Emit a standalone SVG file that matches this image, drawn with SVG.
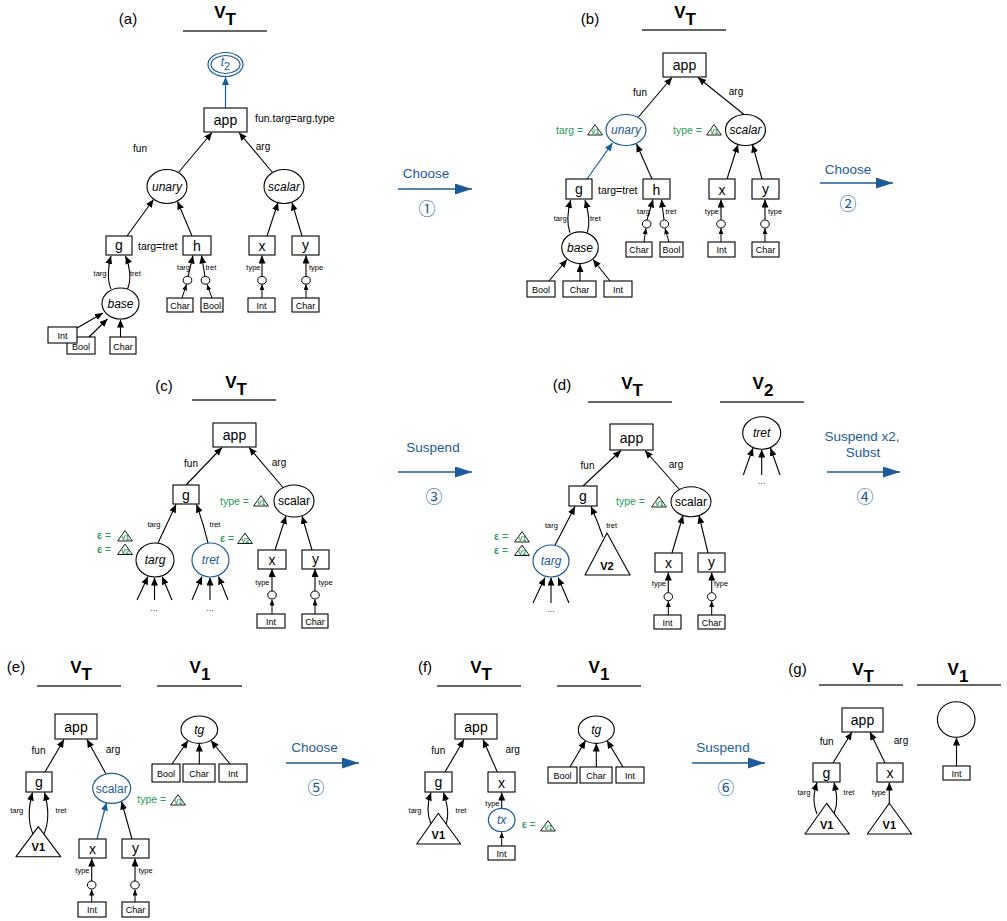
<svg xmlns="http://www.w3.org/2000/svg" width="1007" height="921" viewBox="0 0 1007 921">
<style>
text{font-family:"Liberation Sans",Arial,Helvetica,sans-serif;fill:#000}
.pl{font-size:15px;text-anchor:middle}
.hd{font-size:17px;font-weight:bold;text-anchor:middle}
.ul{stroke:#333;stroke-width:1.5}
.n{fill:#fff;stroke:#000;stroke-width:1.1}
.nb{fill:#fff;stroke:#1c5b9a;stroke-width:1.2}
.bx{font-size:14px;text-anchor:middle}
.sb{font-size:9px;text-anchor:middle}
.el{font-size:10px;text-anchor:middle}
.tl{font-size:7.5px}
.it{font-size:12px;font-style:italic;text-anchor:middle}
.rg{font-size:12px;text-anchor:middle}
.blue{fill:#1c5b9a}
.gr{font-size:10.5px;fill:#2a9d5c}
.ic{font-size:7px;font-weight:bold;fill:#2a9d5c;text-anchor:middle}
.icp{fill:#fff;stroke:#000;stroke-width:0.9;stroke-linejoin:round}
.e{fill:none;stroke:#000;stroke-width:1.1;marker-end:url(#ah)}
.es{fill:none;stroke:#000;stroke-width:1;marker-end:url(#ahs)}
.eb{fill:none;stroke:#1c5b9a;stroke-width:1.2;marker-end:url(#ahb)}
.pa{stroke:#1c5b9a;stroke-width:1.5;marker-end:url(#ahp)}
.pt{font-size:13.5px;fill:#1c5b9a;text-anchor:middle}
.pn{font-size:17px;fill:#1c5b9a;text-anchor:middle;font-family:"Noto Sans CJK JP","DejaVu Sans",sans-serif}
.big{fill:#fff;stroke:#000;stroke-width:1.1;stroke-linejoin:round}
.vt{font-size:11px;font-weight:bold;text-anchor:middle}
.dots{font-size:9px;text-anchor:middle;fill:#444}
.sm{fill:#fff;stroke:#000;stroke-width:1}
</style>
<defs>
<marker id="ah" viewBox="0 0 10 10" refX="10" refY="5" markerWidth="8" markerHeight="7" markerUnits="userSpaceOnUse" orient="auto" preserveAspectRatio="none"><path d="M0,0 L10,5 L0,10 Z" fill="#000"/></marker>
<marker id="ahs" viewBox="0 0 10 10" refX="10" refY="5" markerWidth="6" markerHeight="5" markerUnits="userSpaceOnUse" orient="auto" preserveAspectRatio="none"><path d="M0,0 L10,5 L0,10 Z" fill="#000"/></marker>
<marker id="ahb" viewBox="0 0 10 10" refX="10" refY="5" markerWidth="8" markerHeight="7" markerUnits="userSpaceOnUse" orient="auto" preserveAspectRatio="none"><path d="M0,0 L10,5 L0,10 Z" fill="#1c5b9a"/></marker>
<marker id="ahp" viewBox="0 0 10 10" refX="10" refY="5" markerWidth="17" markerHeight="11" markerUnits="userSpaceOnUse" orient="auto" preserveAspectRatio="none"><path d="M0,0 L10,5 L0,10 Z" fill="#1c5b9a"/></marker>
<g id="i1"><path class="icp" d="M0.6,11 L8,0.6 L15.4,11 Z"/><text class="ic" x="8.2" y="10.3">V1</text></g>
<g id="i2"><path class="icp" d="M0.6,11 L8,0.6 L15.4,11 Z"/><text class="ic" x="8.2" y="10.3">V2</text></g>
</defs>

<g id="connectors">
<!-- (a) -->
<line class="eb" x1="225.5" y1="108" x2="225.5" y2="77"/>
<line class="e" x1="178.5" y1="172.5" x2="212" y2="132.5"/>
<line class="e" x1="272.5" y1="172.5" x2="239" y2="132.5"/>
<line class="e" x1="127" y1="236" x2="153.5" y2="199.5"/>
<line class="e" x1="192" y1="236" x2="177.5" y2="201.5"/>
<line class="e" x1="267" y1="236" x2="278" y2="202.5"/>
<line class="e" x1="302" y1="236" x2="292" y2="202.5"/>
<path class="e" d="M111,289 C107,280 108,266 111,256"/>
<path class="e" d="M127.5,289 C131.5,280 130,266 125.5,256"/>
<line class="es" x1="182" y1="298" x2="186.5" y2="284.3"/>
<line class="es" x1="212" y1="298" x2="207" y2="284.3"/>
<line class="e" x1="188" y1="276.5" x2="193" y2="255.5"/>
<line class="e" x1="205" y1="276.5" x2="201.5" y2="255.5"/>
<line class="es" x1="262" y1="298" x2="262" y2="284.3"/>
<line class="e" x1="262" y1="276.5" x2="262" y2="255.5"/>
<line class="es" x1="306" y1="298" x2="306" y2="284.3"/>
<line class="e" x1="306" y1="276.5" x2="306" y2="255.5"/>
<line class="e" x1="77" y1="328" x2="103" y2="313"/>
<line class="e" x1="89" y1="337" x2="107.5" y2="319"/>
<line class="e" x1="120.5" y1="337" x2="120.5" y2="319.5"/>
<!-- (b) -->
<line class="e" x1="638" y1="117.5" x2="672" y2="77.5"/>
<line class="e" x1="744" y1="114.5" x2="698" y2="77.5"/>
<line class="eb" x1="587" y1="179" x2="612.5" y2="143"/>
<line class="e" x1="652" y1="179" x2="636.5" y2="144"/>
<line class="e" x1="727" y1="179" x2="738" y2="144.5"/>
<line class="e" x1="762" y1="179" x2="752.5" y2="144.5"/>
<path class="e" d="M570,232.7 C566,222 568,210 570.7,200"/>
<path class="e" d="M587.3,232.7 C591,222 588,210 585,200"/>
<line class="es" x1="644" y1="242" x2="646" y2="228.3"/>
<line class="es" x1="669" y1="242" x2="665" y2="228.3"/>
<line class="e" x1="647" y1="219.8" x2="653" y2="199.5"/>
<line class="e" x1="664" y1="219.8" x2="661.5" y2="199.5"/>
<line class="es" x1="721" y1="242" x2="721" y2="228.3"/>
<line class="e" x1="721" y1="219.8" x2="721" y2="199.5"/>
<line class="es" x1="765" y1="242" x2="765" y2="228.3"/>
<line class="e" x1="765" y1="219.8" x2="765" y2="199.5"/>
<line class="e" x1="549" y1="281" x2="567" y2="259.5"/>
<line class="e" x1="580" y1="281" x2="580" y2="264"/>
<line class="e" x1="610" y1="281" x2="593" y2="259.5"/>
<!-- (c) -->
<line class="e" x1="186" y1="485" x2="222" y2="447.5"/>
<line class="e" x1="283" y1="487.5" x2="249" y2="447.5"/>
<line class="e" x1="158" y1="543" x2="176" y2="504.5"/>
<path class="e" d="M208,543 Q203,522 196.5,504.5"/>
<line class="e" x1="275" y1="550" x2="286" y2="516"/>
<line class="e" x1="312" y1="550" x2="302" y2="516"/>
<line class="e" x1="137" y1="600" x2="148" y2="576.5"/>
<line class="e" x1="154.5" y1="600" x2="154.5" y2="577.5"/>
<line class="e" x1="172" y1="600" x2="162" y2="576.5"/>
<line class="e" x1="192" y1="600" x2="202" y2="576.5"/>
<line class="e" x1="210" y1="600" x2="210" y2="577.5"/>
<line class="e" x1="228" y1="600" x2="218.5" y2="576.5"/>
<line class="es" x1="272" y1="614" x2="272" y2="599.5"/>
<line class="e" x1="272" y1="591" x2="272" y2="569"/>
<line class="es" x1="315" y1="614" x2="315" y2="599.5"/>
<line class="e" x1="315" y1="591" x2="315" y2="569"/>
<!-- (d) -->
<line class="e" x1="583" y1="486" x2="621" y2="450.5"/>
<line class="e" x1="679" y1="489" x2="645" y2="450.5"/>
<line class="e" x1="555" y1="545.2" x2="575" y2="506.5"/>
<path class="e" d="M603,537 Q597,520 591,506.5"/>
<line class="e" x1="672" y1="553" x2="683" y2="515.5"/>
<line class="e" x1="708" y1="553" x2="699" y2="515.5"/>
<line class="e" x1="533" y1="603" x2="545" y2="577.5"/>
<line class="e" x1="551" y1="603" x2="551" y2="577.5"/>
<line class="e" x1="569" y1="603" x2="558" y2="577.5"/>
<line class="e" x1="743.3" y1="475" x2="753" y2="448"/>
<line class="e" x1="761.7" y1="475" x2="761.7" y2="449.5"/>
<line class="e" x1="780" y1="475" x2="770.5" y2="448"/>
<line class="es" x1="668.3" y1="615" x2="668.3" y2="601"/>
<line class="e" x1="668.3" y1="592.5" x2="668.3" y2="572.5"/>
<line class="es" x1="711.7" y1="615" x2="711.7" y2="601"/>
<line class="e" x1="711.7" y1="592.5" x2="711.7" y2="572.5"/>
<!-- (e) -->
<line class="e" x1="45" y1="772" x2="64" y2="739.5"/>
<line class="e" x1="106" y1="774" x2="87" y2="739.5"/>
<path class="e" d="M33,834 C27,820 29,805 32.5,792.5"/>
<path class="e" d="M44,834 C50,820 48,805 44.5,792.5"/>
<line class="eb" x1="97" y1="839" x2="106.5" y2="802.5"/>
<line class="e" x1="132" y1="839" x2="121.5" y2="801.5"/>
<line class="es" x1="91.7" y1="902" x2="91.7" y2="889.5"/>
<line class="e" x1="91.7" y1="881" x2="91.7" y2="858.5"/>
<line class="es" x1="135" y1="902" x2="135" y2="889.5"/>
<line class="e" x1="135" y1="881" x2="135" y2="858.5"/>
<line class="e" x1="172" y1="764" x2="188" y2="740.5"/>
<line class="e" x1="199.3" y1="764" x2="199.3" y2="743.5"/>
<line class="e" x1="230" y1="764" x2="211" y2="740.5"/>
<!-- (f) -->
<line class="e" x1="445" y1="772" x2="464" y2="739.5"/>
<line class="e" x1="497.3" y1="772" x2="483" y2="739.5"/>
<path class="e" d="M431,824 C426,812 428,801 431,792.5"/>
<path class="e" d="M446,824 C450,812 446,801 443.5,792.5"/>
<line class="e" x1="501.7" y1="808.3" x2="501.7" y2="792.5"/>
<line class="es" x1="501.7" y1="846" x2="501.7" y2="832.2"/>
<line class="e" x1="570" y1="767" x2="585.5" y2="740.5"/>
<line class="e" x1="596.3" y1="767" x2="596.3" y2="743.5"/>
<line class="e" x1="623" y1="767" x2="607" y2="740.5"/>
<!-- (g) -->
<line class="e" x1="833" y1="763" x2="852" y2="732"/>
<line class="e" x1="885" y1="763" x2="870" y2="732"/>
<path class="e" d="M817,814 C812,801 814,792 817,782.5"/>
<path class="e" d="M834,814 C839,801 836,792 834,782.5"/>
<line class="e" x1="889.3" y1="806" x2="889.3" y2="782.5"/>
<line class="e" x1="956.5" y1="766" x2="956.5" y2="737.5"/>
<!-- process arrows -->
<line class="pa" x1="398" y1="189" x2="472" y2="189"/>
<line class="pa" x1="820" y1="183" x2="893" y2="183"/>
<line class="pa" x1="398" y1="472" x2="472" y2="472"/>
<line class="pa" x1="827" y1="472" x2="900" y2="472"/>
<line class="pa" x1="286" y1="763" x2="359" y2="763"/>
<line class="pa" x1="692" y1="763" x2="765" y2="763"/>
</g>

<g id="connector-labels">
<text class="pt" x="426" y="178">Choose</text><text class="pn" x="427" y="215">①</text>
<text class="pt" x="848" y="174">Choose</text><text class="pn" x="848" y="210">②</text>
<text class="pt" x="433" y="452">Suspend</text><text class="pn" x="434" y="503">③</text>
<text class="pt" x="862" y="441">Suspend x2,</text><text class="pt" x="863" y="457">Subst</text><text class="pn" x="865" y="503">④</text>
<text class="pt" x="314.5" y="752">Choose</text><text class="pn" x="316" y="794">⑤</text>
<text class="pt" x="723" y="752">Suspend</text><text class="pn" x="726" y="794">⑥</text>
<!-- (a) -->
<text x="255" y="122" font-size="10.5">fun.targ=arg.type</text>
<text class="el" x="140" y="152">fun</text><text class="el" x="263" y="150">arg</text>
<text x="138" y="249.5" font-size="10.5">targ=tret</text>
<text class="tl" x="106.5" y="276" text-anchor="end">targ</text><text class="tl" x="130" y="276">tret</text>
<text class="tl" x="190" y="269.5" text-anchor="end">targ</text><text class="tl" x="205.5" y="269.5">tret</text>
<text class="tl" x="260.5" y="269.5" text-anchor="end">type</text><text class="tl" x="309" y="269.5">type</text>
<!-- (b) -->
<text class="el" x="640" y="96">fun</text><text class="el" x="736" y="95">arg</text>
<text x="598" y="193.5" font-size="10.5">targ=tret</text>
<text class="tl" x="566.7" y="221" text-anchor="end">targ</text><text class="tl" x="590" y="221">tret</text>
<text class="tl" x="650" y="214" text-anchor="end">targ</text><text class="tl" x="665.5" y="214">tret</text>
<text class="tl" x="719" y="214" text-anchor="end">type</text><text class="tl" x="768" y="214">type</text>
<text class="gr" x="556" y="134">targ =</text><use href="#i1" x="587" y="124"/>
<text class="gr" x="673" y="134">type =</text><use href="#i1" x="706" y="124"/>
<!-- (c) -->
<text class="el" x="191" y="467">fun</text><text class="el" x="279" y="466">arg</text>
<text class="tl" x="154" y="527" text-anchor="middle">targ</text><text class="tl" x="215" y="527" text-anchor="middle">tret</text>
<text class="tl" x="269.5" y="585" text-anchor="end">type</text><text class="tl" x="318.5" y="585">type</text>
<text class="gr" x="220" y="504.5">type =</text><use href="#i1" x="253" y="495"/>
<text class="gr" x="220" y="541.5"><tspan font-weight="bold">ε</tspan> =</text><use href="#i2" x="237" y="532.5"/>
<text class="gr" x="97" y="539"><tspan font-weight="bold">ε</tspan> =</text><use href="#i1" x="117" y="530"/>
<text class="gr" x="97" y="552.5"><tspan font-weight="bold">ε</tspan> =</text><use href="#i2" x="117" y="543.5"/>
<text class="dots" x="154" y="611">...</text><text class="dots" x="210" y="611">...</text>
<!-- (d) -->
<text class="el" x="587.5" y="469">fun</text><text class="el" x="676" y="468">arg</text>
<text class="tl" x="551.5" y="528" text-anchor="middle">targ</text><text class="tl" x="611.7" y="528" text-anchor="middle">tret</text>
<text class="tl" x="666" y="586" text-anchor="end">type</text><text class="tl" x="714" y="586">type</text>
<text class="gr" x="616" y="505">type =</text><use href="#i1" x="651" y="496"/>
<text class="gr" x="494" y="540"><tspan font-weight="bold">ε</tspan> =</text><use href="#i1" x="514" y="531"/>
<text class="gr" x="494" y="553.5"><tspan font-weight="bold">ε</tspan> =</text><use href="#i2" x="514" y="544.5"/>
<text class="dots" x="551" y="612">...</text><text class="dots" x="761.7" y="484">...</text>
<!-- (e) -->
<text class="el" x="38.5" y="753.5">fun</text><text class="el" x="113" y="752.5">arg</text>
<text class="tl" x="16.7" y="813" text-anchor="middle">targ</text><text class="tl" x="61" y="813" text-anchor="middle">tret</text>
<text class="tl" x="89.5" y="873" text-anchor="end">type</text><text class="tl" x="138.5" y="873">type</text>
<text class="gr" x="137.3" y="803">type =</text><use href="#i1" x="170" y="794"/>
<!-- (f) -->
<text class="el" x="438.3" y="753.5">fun</text><text class="el" x="512.7" y="752.5">arg</text>
<text class="tl" x="421.5" y="813" text-anchor="end">targ</text><text class="tl" x="461" y="813" text-anchor="middle">tret</text>
<text class="tl" x="499.5" y="806" text-anchor="end">type</text>
<text class="gr" x="521.7" y="828"><tspan font-weight="bold">ε</tspan> =</text><use href="#i1" x="540" y="820"/>
<!-- (g) -->
<text class="el" x="826.7" y="745">fun</text><text class="el" x="901" y="744">arg</text>
<text class="tl" x="804" y="795" text-anchor="middle">targ</text><text class="tl" x="849" y="795" text-anchor="middle">tret</text>
<text class="tl" x="886" y="795" text-anchor="end">type</text>
</g>

<g id="panel-a">
<g id="a-label"><text class="pl" x="128" y="24">(a)</text></g>
<g id="a-header"><text class="hd" x="225" y="18">V<tspan dy="7">T</tspan></text><line class="ul" x1="183" y1="31" x2="267" y2="31"/></g>
<g id="a-t2"><ellipse class="nb" cx="225.5" cy="64.5" rx="17.5" ry="12"/><ellipse class="nb" cx="225.5" cy="64.5" rx="14.5" ry="9"/><text class="blue" x="225.5" y="66" font-size="12" font-style="italic" text-anchor="middle">t<tspan font-size="11" dy="4" font-style="normal">2</tspan></text></g>
<g id="a-app"><rect class="n" x="204" y="108" width="43" height="24"/><text class="bx" x="225.5" y="125">app</text></g>
<g id="a-unary"><ellipse class="n" cx="167" cy="186.5" rx="20" ry="17"/><text class="it" x="167" y="190.5">unary</text></g>
<g id="a-scalar"><ellipse class="n" cx="284" cy="186.5" rx="20" ry="17"/><text class="it" x="284" y="190.5">scalar</text></g>
<g id="a-g"><rect class="n" x="106" y="236" width="26" height="19"/><text class="bx" x="119" y="249.5">g</text></g>
<g id="a-h"><rect class="n" x="183" y="236" width="28" height="19"/><text class="bx" x="197" y="250.5">h</text></g>
<g id="a-x"><rect class="n" x="249" y="236" width="26" height="19"/><text class="bx" x="262" y="250.5">x</text></g>
<g id="a-y"><rect class="n" x="292" y="236" width="27" height="19"/><text class="bx" x="305.5" y="249.5">y</text></g>
<g id="a-base"><ellipse class="n" cx="120.5" cy="303.5" rx="18.5" ry="15.5"/><text class="it" x="120.5" y="307.5">base</text></g>
<g id="a-bool1"><rect class="n" x="67" y="337" width="28" height="17"/><text class="sb" x="81" y="349.5">Bool</text></g>
<g id="a-int1"><rect class="n" x="48" y="327" width="29" height="16"/><text class="sb" x="62.5" y="338.5">Int</text></g>
<g id="a-char1"><rect class="n" x="110" y="337" width="26" height="17"/><text class="sb" x="123" y="349.5">Char</text></g>
<g id="a-h1"><ellipse class="sm" cx="187.5" cy="280.3" rx="4.3" ry="3.8"/></g>
<g id="a-h2"><ellipse class="sm" cx="205.5" cy="280.3" rx="4.3" ry="3.8"/></g>
<g id="a-char2"><rect class="n" x="167" y="298" width="26" height="14"/><text class="sb" x="180" y="308.5">Char</text></g>
<g id="a-bool2"><rect class="n" x="201" y="298" width="22" height="14"/><text class="sb" x="212" y="308.5">Bool</text></g>
<g id="a-x1"><ellipse class="sm" cx="262" cy="280.3" rx="4.3" ry="3.8"/></g>
<g id="a-int2"><rect class="n" x="248" y="298" width="27" height="14"/><text class="sb" x="261.5" y="308.5">Int</text></g>
<g id="a-y1"><ellipse class="sm" cx="306" cy="280.3" rx="4.3" ry="3.8"/></g>
<g id="a-char3"><rect class="n" x="292" y="298" width="27" height="14"/><text class="sb" x="305.5" y="308.5">Char</text></g>
</g>

<g id="panel-b">
<g id="b-label"><text class="pl" x="590" y="24">(b)</text></g>
<g id="b-header"><text class="hd" x="685" y="18">V<tspan dy="7">T</tspan></text><line class="ul" x1="642" y1="30" x2="726" y2="30"/></g>
<g id="b-app"><rect class="n" x="663" y="53" width="43" height="24"/><text class="bx" x="684.5" y="70">app</text></g>
<g id="b-unary"><ellipse class="nb" cx="626" cy="130" rx="20" ry="15.5"/><text class="it blue" x="626" y="134">unary</text></g>
<g id="b-scalar"><ellipse class="n" cx="745.5" cy="130" rx="20" ry="15.5"/><text class="it" x="745.5" y="134">scalar</text></g>
<g id="b-g"><rect class="n" x="566" y="179" width="26" height="20"/><text class="bx" x="579" y="194">g</text></g>
<g id="b-h"><rect class="n" x="643" y="179" width="27" height="20"/><text class="bx" x="656.5" y="194.5">h</text></g>
<g id="b-x"><rect class="n" x="709" y="179" width="26" height="20"/><text class="bx" x="722" y="194.5">x</text></g>
<g id="b-y"><rect class="n" x="752" y="179" width="27" height="20"/><text class="bx" x="765.5" y="193.5">y</text></g>
<g id="b-base"><ellipse class="n" cx="580" cy="247.7" rx="18.3" ry="15.8"/><text class="it" x="580" y="251.7">base</text></g>
<g id="b-h1"><ellipse class="sm" cx="646.7" cy="224" rx="4.3" ry="4"/></g>
<g id="b-h2"><ellipse class="sm" cx="664.3" cy="224" rx="4.3" ry="4"/></g>
<g id="b-char1"><rect class="n" x="626" y="242" width="26" height="15"/><text class="sb" x="639" y="253">Char</text></g>
<g id="b-bool1"><rect class="n" x="660" y="242" width="23" height="15"/><text class="sb" x="671.5" y="253">Bool</text></g>
<g id="b-x1"><ellipse class="sm" cx="721" cy="224" rx="4.3" ry="4"/></g>
<g id="b-int1"><rect class="n" x="708" y="242" width="27" height="15"/><text class="sb" x="721.5" y="253">Int</text></g>
<g id="b-y1"><ellipse class="sm" cx="765" cy="224" rx="4.3" ry="4"/></g>
<g id="b-char2"><rect class="n" x="752" y="242" width="27" height="15"/><text class="sb" x="765.5" y="253">Char</text></g>
<g id="b-bool2"><rect class="n" x="527" y="281" width="28" height="16"/><text class="sb" x="541" y="292.5">Bool</text></g>
<g id="b-char3"><rect class="n" x="563" y="281" width="33" height="16"/><text class="sb" x="579.5" y="292.5">Char</text></g>
<g id="b-int2"><rect class="n" x="604" y="281" width="28" height="16"/><text class="sb" x="618" y="292.5">Int</text></g>
</g>

<g id="panel-c">
<g id="c-label"><text class="pl" x="164" y="391">(c)</text></g>
<g id="c-header"><text class="hd" x="236" y="388">V<tspan dy="7">T</tspan></text><line class="ul" x1="192" y1="400" x2="276" y2="400"/></g>
<g id="c-app"><rect class="n" x="213" y="423" width="43" height="24"/><text class="bx" x="234.5" y="440">app</text></g>
<g id="c-g"><rect class="n" x="173" y="485" width="26" height="19"/><text class="bx" x="186" y="499.5">g</text></g>
<g id="c-scalar"><ellipse class="n" cx="294" cy="501" rx="20" ry="16"/><text class="rg" x="294" y="505">scalar</text></g>
<g id="c-targ"><ellipse class="n" cx="155" cy="560" rx="19" ry="17"/><text class="it" x="155" y="564">targ</text></g>
<g id="c-tret"><ellipse class="nb" cx="210.5" cy="560" rx="18.5" ry="17"/><text class="it blue" x="210.5" y="564">tret</text></g>
<g id="c-x"><rect class="n" x="258" y="550" width="28" height="19"/><text class="bx" x="272" y="564.5">x</text></g>
<g id="c-y"><rect class="n" x="302" y="550" width="27" height="19"/><text class="bx" x="315.5" y="563.5">y</text></g>
<g id="c-x1"><ellipse class="sm" cx="272" cy="595" rx="4.3" ry="4"/></g>
<g id="c-y1"><ellipse class="sm" cx="315" cy="595" rx="4.3" ry="4"/></g>
<g id="c-int"><rect class="n" x="257" y="614" width="28" height="14"/><text class="sb" x="271" y="624.5">Int</text></g>
<g id="c-char"><rect class="n" x="302" y="614" width="26" height="14"/><text class="sb" x="315" y="624.5">Char</text></g>
</g>

<g id="panel-d">
<g id="d-label"><text class="pl" x="562" y="390">(d)</text></g>
<g id="d-header"><text class="hd" x="632" y="388.5">V<tspan dy="7">T</tspan></text><line class="ul" x1="588" y1="402" x2="672" y2="402"/></g>
<g id="d-header2"><text class="hd" x="763" y="388.5">V<tspan dy="7">2</tspan></text><line class="ul" x1="720" y1="402" x2="804" y2="402"/></g>
<g id="d-app"><rect class="n" x="610" y="424" width="43" height="26"/><text class="bx" x="631.5" y="442.5">app</text></g>
<g id="d-g"><rect class="n" x="569" y="486" width="28" height="20"/><text class="bx" x="583" y="501">g</text></g>
<g id="d-scalar"><ellipse class="n" cx="691" cy="501.7" rx="20" ry="15"/><text class="rg" x="691" y="506">scalar</text></g>
<g id="d-targ"><ellipse class="nb" cx="551" cy="561" rx="18" ry="16"/><text class="it blue" x="551" y="565">targ</text></g>
<g id="d-v2"><path class="big" d="M607,533 L630,575 L585,575 Z"/><text class="vt" x="607" y="569.5">V2</text></g>
<g id="d-tret"><ellipse class="n" cx="761.7" cy="433" rx="19" ry="16.3"/><text class="it" x="761.7" y="437">tret</text></g>
<g id="d-x"><rect class="n" x="655" y="553" width="27" height="19"/><text class="bx" x="668.5" y="567.5">x</text></g>
<g id="d-y"><rect class="n" x="698" y="553" width="27" height="19"/><text class="bx" x="711.5" y="566.5">y</text></g>
<g id="d-x1"><ellipse class="sm" cx="668.3" cy="596.7" rx="4.3" ry="4"/></g>
<g id="d-y1"><ellipse class="sm" cx="711.7" cy="596.7" rx="4.3" ry="4"/></g>
<g id="d-int"><rect class="n" x="654" y="615" width="27" height="14"/><text class="sb" x="667.5" y="625.5">Int</text></g>
<g id="d-char"><rect class="n" x="698" y="615" width="27" height="14"/><text class="sb" x="711.5" y="625.5">Char</text></g>
</g>

<g id="panel-e">
<g id="e-label"><text class="pl" x="16" y="672">(e)</text></g>
<g id="e-header"><text class="hd" x="81" y="673">V<tspan dy="7">T</tspan></text><line class="ul" x1="37" y1="686" x2="121" y2="686"/></g>
<g id="e-header2"><text class="hd" x="200" y="673">V<tspan dy="7">1</tspan></text><line class="ul" x1="157" y1="686" x2="242" y2="686"/></g>
<g id="e-app"><rect class="n" x="55" y="714" width="42" height="25"/><text class="bx" x="76" y="732">app</text></g>
<g id="e-g"><rect class="n" x="26" y="772" width="26" height="20"/><text class="bx" x="39" y="787">g</text></g>
<g id="e-scalar"><ellipse class="nb" cx="111.7" cy="788.3" rx="19" ry="15"/><text class="rg blue" x="111.7" y="792.5">scalar</text></g>
<g id="e-v1"><path class="big" d="M38.3,826.7 L60.7,856.7 L16,856.7 Z"/><text class="vt" x="38.3" y="851">V1</text></g>
<g id="e-x"><rect class="n" x="79" y="839" width="27" height="19"/><text class="bx" x="92.5" y="853.5">x</text></g>
<g id="e-y"><rect class="n" x="122" y="839" width="27" height="19"/><text class="bx" x="135.5" y="852.5">y</text></g>
<g id="e-x1"><ellipse class="sm" cx="91.7" cy="885" rx="4.3" ry="4"/></g>
<g id="e-y1"><ellipse class="sm" cx="135" cy="885" rx="4.3" ry="4"/></g>
<g id="e-int"><rect class="n" x="78" y="902" width="28" height="15"/><text class="sb" x="92" y="913">Int</text></g>
<g id="e-char"><rect class="n" x="122" y="902" width="27" height="15"/><text class="sb" x="135.5" y="913">Char</text></g>
<g id="e-tg"><ellipse class="n" cx="199.3" cy="729.7" rx="18.3" ry="13.7"/><text class="it" x="199.3" y="733.5">tg</text></g>
<g id="e-bool"><rect class="n" x="152" y="764" width="28" height="18"/><text class="sb" x="166" y="776.5">Bool</text></g>
<g id="e-char2"><rect class="n" x="183" y="764" width="32" height="18"/><text class="sb" x="199" y="776.5">Char</text></g>
<g id="e-int2"><rect class="n" x="219" y="764" width="28" height="18"/><text class="sb" x="233" y="776.5">Int</text></g>
</g>

<g id="panel-f">
<g id="f-label"><text class="pl" x="425" y="672">(f)</text></g>
<g id="f-header"><text class="hd" x="481" y="673">V<tspan dy="7">T</tspan></text><line class="ul" x1="437" y1="686" x2="521" y2="686"/></g>
<g id="f-header2"><text class="hd" x="599" y="673">V<tspan dy="7">1</tspan></text><line class="ul" x1="557" y1="686" x2="641" y2="686"/></g>
<g id="f-app"><rect class="n" x="455" y="714" width="42" height="25"/><text class="bx" x="476" y="732">app</text></g>
<g id="f-g"><rect class="n" x="425" y="772" width="27" height="20"/><text class="bx" x="438.5" y="787">g</text></g>
<g id="f-x"><rect class="n" x="488" y="772" width="27" height="20"/><text class="bx" x="501.5" y="787.5">x</text></g>
<g id="f-v1"><path class="big" d="M438.3,813.3 L460.7,844 L416.7,844 Z"/><text class="vt" x="438.3" y="839">V1</text></g>
<g id="f-tx"><ellipse class="nb" cx="501.7" cy="820" rx="13.3" ry="11.7"/><text class="it blue" x="501.7" y="824">tx</text></g>
<g id="f-int"><rect class="n" x="488" y="846" width="27" height="14"/><text class="sb" x="501.5" y="856.5">Int</text></g>
<g id="f-tg"><ellipse class="n" cx="596.3" cy="729.7" rx="18" ry="13.7"/><text class="it" x="596.3" y="733.5">tg</text></g>
<g id="f-bool"><rect class="n" x="548" y="767" width="29" height="16"/><text class="sb" x="562.5" y="778.5">Bool</text></g>
<g id="f-char"><rect class="n" x="580" y="767" width="32" height="16"/><text class="sb" x="596" y="778.5">Char</text></g>
<g id="f-int2"><rect class="n" x="616" y="767" width="28" height="16"/><text class="sb" x="630" y="778.5">Int</text></g>
</g>

<g id="panel-g">
<g id="g-label"><text class="pl" x="797.5" y="674">(g)</text></g>
<g id="g-header"><text class="hd" x="863" y="675">V<tspan dy="6.5">T</tspan></text><line class="ul" x1="819" y1="685" x2="903" y2="685"/></g>
<g id="g-header2"><text class="hd" x="958" y="675">V<tspan dy="6.5">1</tspan></text><line class="ul" x1="917" y1="685" x2="1001" y2="685"/></g>
<g id="g-app"><rect class="n" x="842" y="708" width="41" height="24"/><text class="bx" x="862.5" y="725">app</text></g>
<g id="g-g"><rect class="n" x="813" y="763" width="27" height="19"/><text class="bx" x="826.5" y="777.5">g</text></g>
<g id="g-x"><rect class="n" x="877" y="763" width="26" height="19"/><text class="bx" x="890" y="777.5">x</text></g>
<g id="g-v1a"><path class="big" d="M826.7,803.3 L849.3,834 L805,834 Z"/><text class="vt" x="826.7" y="829">V1</text></g>
<g id="g-v1b"><path class="big" d="M889.3,803.3 L911.7,834 L867.3,834 Z"/><text class="vt" x="889.3" y="829">V1</text></g>
<g id="g-circle"><ellipse class="n" cx="956.2" cy="719.5" rx="18.8" ry="17.8"/></g>
<g id="g-int"><rect class="n" x="943" y="766" width="27" height="14"/><text class="sb" x="956.5" y="776.5">Int</text></g>
</g>
</svg>
